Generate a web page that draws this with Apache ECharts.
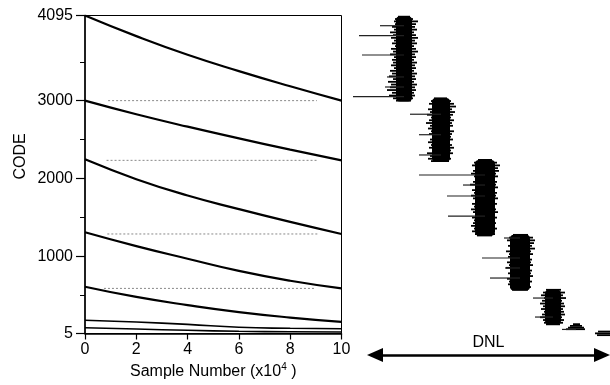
<!DOCTYPE html>
<html><head><meta charset="utf-8">
<script src="https://cdn.jsdelivr.net/npm/echarts@6/dist/echarts.min.js"></script>
<style>html,body{margin:0;padding:0;background:#fff}#c{width:610px;height:385px}</style>
</head><body><div id="c"></div>
<script>
// ---------- data ----------
const samples = [0, 2, 4, 6, 8, 10];            // Sample Number (x10^4)
const curve1 = [4095, 3830, 3590, 3380, 3185, 3000];
const curve2 = [3000, 2825, 2665, 2515, 2370, 2232];
const curve3 = [2245, 1990, 1780, 1605, 1440, 1285];
const curve4 = [1307, 1129, 967, 810, 683, 585];
const curve5 = [606, 475, 370, 280, 210, 155];
const curve6 = [175, 152, 122, 85, 72, 66];
const curve7 = [79, 62, 46, 33, 28, 24];
const yLabels = [5, 1000, 2000, 3000, 4095];
const yMinor = [500, 1500, 2500, 3500];
const xTicks = [0, 2, 4, 6, 8, 10];
// dotted reference levels
const refLevel = [3000, 2232, 1285, 585];
const refStart = [0.9, 0.84, 0.87, 0.74];
const refEnd = [9.04, 9.06, 9.1, 8.96];
// DNL blocks (DNL axis units)
const blockCenter = [59, 96, 140, 175, 208, 231, 258];
const blockLow = [3000, 2232, 1290, 590, 158, 92, 12];
const blockHigh = [4085, 3045, 2255, 1300, 600, 165, 72];
const blockHalf = [8, 9, 10, 10, 8, 0, 0];
// rows: [code, left offset, right offset]
const rows1 = [[4080,-6,6],[4050,-9,9],[4020,-10,14],[3985,-9,12],[3950,-12,11],[3915,-10,13],[3880,-14,10],[3845,-11,12],[3810,-13,14],[3775,-10,11],[3740,-12,13],[3705,-9,10],[3670,-13,12],[3635,-11,14],[3600,-14,11],[3565,-10,12],[3530,-12,10],[3495,-11,13],[3460,-13,11],[3425,-10,12],[3390,-14,10],[3355,-12,13],[3320,-15,11],[3285,-11,12],[3250,-16,10],[3215,-13,13],[3180,-14,11],[3145,-17,12],[3110,-12,10],[3075,-15,11],[3040,-11,9],[3010,-8,7]];
const rows2 = [[3040,-7,6],[3005,-10,10],[2970,-12,13],[2935,-9,15],[2900,-13,11],[2865,-11,14],[2830,-14,12],[2795,-10,10],[2760,-12,13],[2725,-15,11],[2690,-11,12],[2655,-13,9],[2620,-10,13],[2585,-12,11],[2550,-9,10],[2515,-11,12],[2480,-13,9],[2445,-10,11],[2410,-12,13],[2375,-9,10],[2340,-14,12],[2305,-11,9],[2270,-13,10],[2240,-10,8]];
const rows3 = [[2255,-7,7],[2220,-11,12],[2185,-13,15],[2150,-10,13],[2115,-12,14],[2080,-14,11],[2045,-11,13],[2010,-9,10],[1975,-12,12],[1940,-15,11],[1905,-10,13],[1870,-13,10],[1835,-11,12],[1800,-14,11],[1765,-12,13],[1730,-10,10],[1695,-13,12],[1660,-11,9],[1625,-14,11],[1590,-12,13],[1555,-10,10],[1520,-13,12],[1485,-11,9],[1450,-12,11],[1415,-14,10],[1380,-11,12],[1345,-13,9],[1310,-10,10],[1292,-8,7]];
const rows4 = [[1300,-7,8],[1265,-11,13],[1230,-13,15],[1195,-10,14],[1160,-12,12],[1125,-9,15],[1090,-14,11],[1055,-11,13],[1020,-12,10],[985,-10,12],[950,-13,11],[915,-11,13],[880,-14,10],[845,-10,12],[810,-12,11],[775,-9,13],[740,-13,10],[705,-11,12],[670,-12,9],[635,-10,11],[600,-8,8]];
const rows5 = [[600,-7,8],[565,-10,12],[530,-12,10],[495,-9,13],[460,-11,9],[425,-13,11],[390,-10,12],[355,-12,10],[320,-9,11],[285,-11,12],[250,-13,9],[215,-10,11],[180,-9,10],[160,-7,7]];
const rows6 = [[162,-3,4],[140,-6,6],[118,-8,8],[98,-10,9]];
const rows7 = [[68,-5,9],[45,-8,10],[22,-6,10]];
// long spikes: [code, left end]
const spikes1 = [[3965,35],[3838,14],[3592,17],[3312,42],[3184,40],[3061,8]];
const spikes2 = [[2837,65],[2576,74],[2318,74]];
const spikes3 = [[2063,74],[1935,118],[1795,102],[1540,103]];
const spikes4 = [[1260,159],[1005,137],[878,160],[750,145]];
const spikes5 = [[495,188],[253,190]];
const spikes6 = [[95,217]];
const spikes7 = [];

// ---------- build ----------
const FONT = "'Liberation Sans', Arial, Helvetica, sans-serif";
const curves = [curve1, curve2, curve3, curve4, curve5, curve6, curve7];
const allRows = [rows1, rows2, rows3, rows4, rows5, rows6, rows7];
const allSpikes = [spikes1, spikes2, spikes3, spikes4, spikes5, spikes6, spikes7];

const series = [];
curves.forEach((c, i) => {
  series.push({
    type: 'line', xAxisIndex: 0, yAxisIndex: 0, smooth: true, showSymbol: false, silent: true,
    data: samples.map((s, k) => [s, c[k]]),
    lineStyle: { color: '#000', width: i < 5 ? 2.2 : 1.6 }
  });
});
refLevel.forEach((v, i) => {
  series.push({
    type: 'line', xAxisIndex: 0, yAxisIndex: 0, showSymbol: false, silent: true,
    data: [[refStart[i], v], [refEnd[i], v]],
    lineStyle: { color: '#888', width: 1, type: [2, 2] }
  });
});

const coreData = blockCenter.map((c, i) => [blockLow[i], blockHigh[i], c - blockHalf[i], c + blockHalf[i]]).filter(d => d[3] > d[2]);
series.push({
  type: 'custom', xAxisIndex: 1, yAxisIndex: 2, silent: true, clip: false,
  dimensions: ['lo', 'hi', 'x1', 'x2'], encode: { x: [2, 3], y: [0, 1] },
  data: coreData,
  renderItem: function (params, api) {
    const p1 = api.coord([api.value(2), api.value(1)]);
    const p2 = api.coord([api.value(3), api.value(0)]);
    return { type: 'rect', shape: { x: p1[0], y: p1[1], width: p2[0] - p1[0], height: p2[1] - p1[1], r: 4 }, style: { fill: '#000' } };
  }
});
const rowData = [];
allRows.forEach((rs, i) => rs.forEach(r => rowData.push([r[0], blockCenter[i] + r[1], blockCenter[i] + r[2]])));
series.push({
  type: 'custom', xAxisIndex: 1, yAxisIndex: 2, silent: true, clip: false,
  dimensions: ['code', 'x1', 'x2'], encode: { x: [1, 2], y: 0 },
  data: rowData,
  renderItem: function (params, api) {
    const p1 = api.coord([api.value(1), api.value(0)]);
    const p2 = api.coord([api.value(2), api.value(0)]);
    return { type: 'rect', shape: { x: p1[0], y: p1[1] - 0.9, width: p2[0] - p1[0], height: 1.8 }, style: { fill: '#000' } };
  }
});
const spikeData = [];
allSpikes.forEach((ss, i) => ss.forEach(s => spikeData.push([s[0], s[1], blockCenter[i]])));
series.push({
  type: 'custom', xAxisIndex: 1, yAxisIndex: 2, silent: true, clip: false,
  dimensions: ['code', 'x1', 'x2'], encode: { x: [1, 2], y: 0 },
  data: spikeData,
  renderItem: function (params, api) {
    const p1 = api.coord([api.value(1), api.value(0)]);
    const p2 = api.coord([api.value(2), api.value(0)]);
    return { type: 'line', shape: { x1: p1[0], y1: p1[1], x2: p2[0], y2: p2[1] }, style: { stroke: '#222', lineWidth: 1.2 } };
  }
});

const chart = echarts.init(document.getElementById('c'), null, { renderer: 'canvas' });
chart.setOption({
  animation: false,
  backgroundColor: '#fff',
  textStyle: { fontFamily: FONT },
  grid: [
    { left: 85, top: 15.5, width: 256.5, height: 321, show: true, borderColor: '#000', borderWidth: 1 },
    { left: 345, top: 15.5, width: 265, height: 321 },
    { left: 375, right: 8, top: 345, height: 10 }
  ],
  xAxis: [
    {
      gridIndex: 0, type: 'value', min: 0, max: 10, interval: 2,
      axisLine: { show: true, lineStyle: { color: '#000', width: 1.5 } },
      axisTick: { show: true, length: 6, lineStyle: { color: '#000', width: 1.2 }, customValues: xTicks },
      axisLabel: { color: '#000', fontSize: 16, margin: 8, fontFamily: FONT, customValues: xTicks },
      splitLine: { show: false },
      name: 'Sample Number (x10{sup|4} )', nameLocation: 'middle', nameGap: 29,
      nameTextStyle: { color: '#000', fontSize: 16, fontFamily: FONT, rich: { sup: { fontSize: 10, fontFamily: FONT, color: '#000', padding: [0, 0, 9, 0] } } }
    },
    { gridIndex: 1, type: 'value', min: 0, max: 265, show: false },
    {
      gridIndex: 2, type: 'value', min: 0, max: 1, position: 'bottom',
      axisLine: { show: true, symbol: ['triangle', 'triangle'], symbolSize: [14, 16], lineStyle: { color: '#000', width: 2.5 } },
      axisTick: { show: false }, axisLabel: { show: false }, splitLine: { show: false },
      name: 'DNL', nameLocation: 'middle', nameGap: -20,
      nameTextStyle: { color: '#000', fontSize: 16, fontFamily: FONT }
    }
  ],
  yAxis: [
    {
      gridIndex: 0, type: 'value', min: 5, max: 4095,
      axisLine: { show: true, lineStyle: { color: '#000', width: 1.5 } },
      axisTick: { show: true, length: 9, lineStyle: { color: '#000', width: 1.2 }, customValues: yLabels },
      axisLabel: { color: '#000', fontSize: 16, margin: 12, fontFamily: FONT, customValues: yLabels, formatter: v => String(v) },
      splitLine: { show: false },
      name: 'CODE', nameLocation: 'middle', nameGap: 56, nameRotate: 90,
      nameTextStyle: { color: '#000', fontSize: 16, fontFamily: FONT, padding: [0, 0, 0, 36] }
    },
    {
      gridIndex: 0, type: 'value', min: 5, max: 4095, position: 'left', offset: 0,
      axisLine: { show: false },
      axisTick: { show: true, length: 5, lineStyle: { color: '#000', width: 1 }, customValues: yMinor },
      axisLabel: { show: false, customValues: yMinor },
      splitLine: { show: false }
    },
    { gridIndex: 1, type: 'value', min: 5, max: 4095, show: false },
    { gridIndex: 2, type: 'value', show: false }
  ],
  series: series
});
</script></body></html>
